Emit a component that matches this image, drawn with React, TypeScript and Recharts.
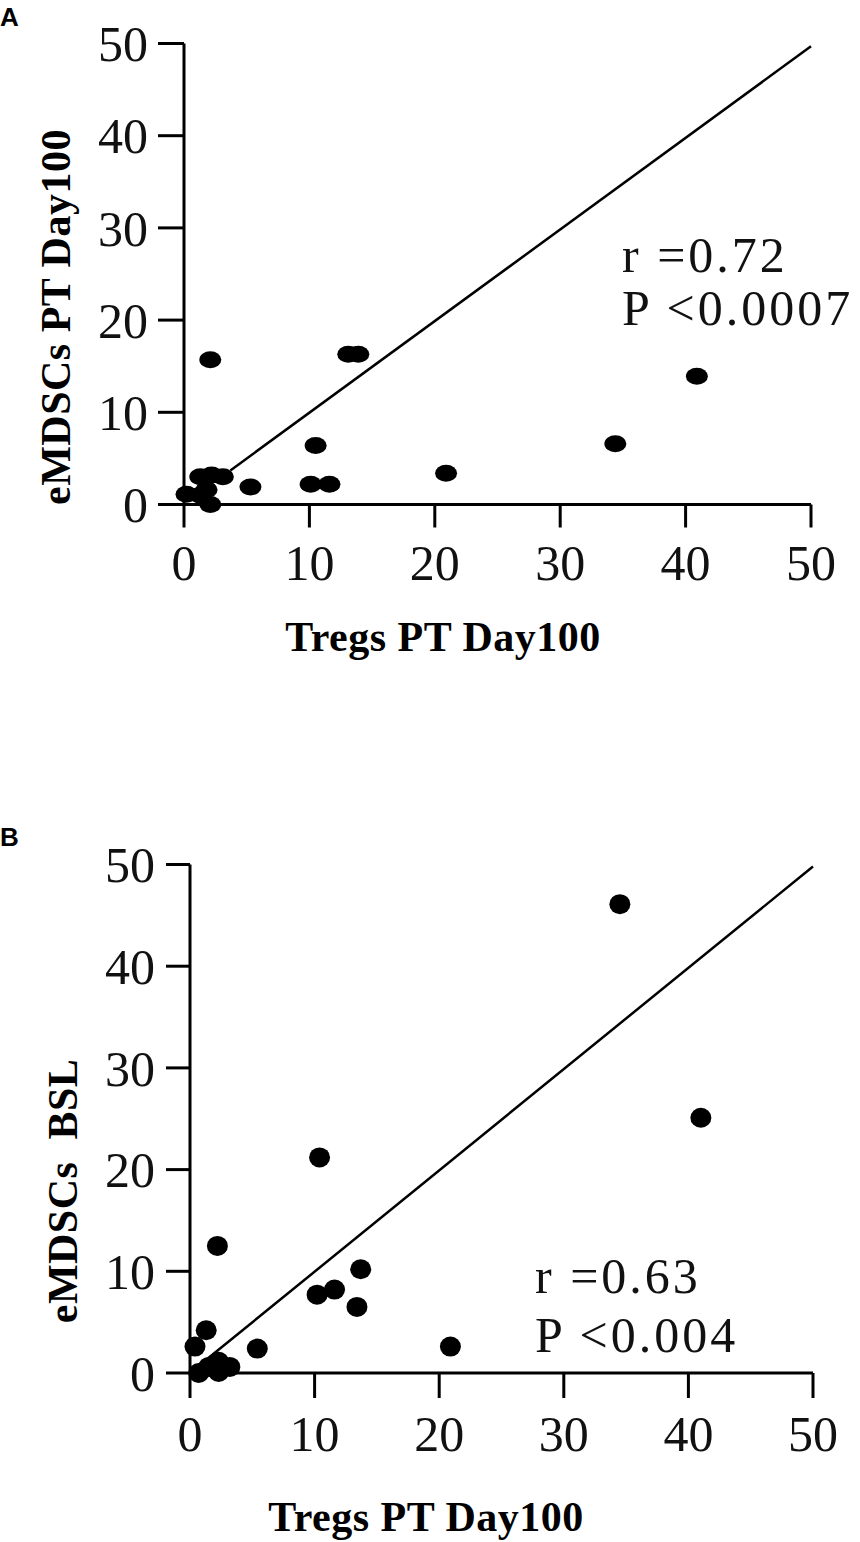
import React from 'react'
import { ScatterChart, Scatter, XAxis, YAxis, ReferenceLine } from 'recharts'

// Panel A: Tregs PT Day100 vs eMDSCs PT Day100
const TREGS_A = [0.2, 1.3, 1.8, 2.1, 1.3, 2.2, 3.1, 2.1, 5.3, 10.1, 10.5, 11.6, 13.1, 13.9, 20.9, 34.4, 40.9]
const EMDSC_A = [1.1, 1.0, 1.6, 0.0, 3.0, 3.2, 3.0, 15.7, 1.9, 2.2, 6.4, 2.2, 16.3, 16.3, 3.4, 6.6, 13.9]
const FIT_A_X = [3.7, 50]
const FIT_A_Y = [3.7, 49.7]

// Panel B: Tregs PT Day100 vs eMDSCs BSL
const TREGS_B = [0.4, 0.7, 1.3, 1.5, 2.3, 2.3, 3.2, 2.2, 5.4, 10.2, 10.4, 11.6, 13.4, 13.7, 20.9, 34.5, 41.0]
const EMDSC_B = [2.6, 0.0, 4.2, 0.6, 0.1, 1.1, 0.6, 12.5, 2.4, 7.7, 21.2, 8.2, 6.5, 10.2, 2.6, 46.1, 25.1]
const FIT_B_X = [1.0, 50]
const FIT_B_Y = [1.0, 49.8]

const TICKS = [0, 10, 20, 30, 40, 50]

const SERIF = '"Liberation Serif", "Times New Roman", serif'
const SANS = '"Liberation Sans", Arial, sans-serif'

const toPoints = (xs: number[], ys: number[]) => xs.map((x, i) => ({ x, y: ys[i] }))

const tickStyle = { fontSize: 50, fill: '#111', fontFamily: SERIF }

const Dot = (rx: number, ry: number) => (props: any) => (
  <ellipse cx={props.cx} cy={props.cy} rx={rx} ry={ry} fill="#000" />
)

const Title = ({ x, y, children, rotate = false }: any) => (
  <text
    x={x}
    y={y}
    textAnchor="middle"
    transform={rotate ? `rotate(-90 ${x} ${y})` : undefined}
    style={{ fontFamily: SERIF, fontWeight: 'bold', fontSize: 42, letterSpacing: 0.5, whiteSpace: 'pre' }}
    fill="#000"
  >
    {children}
  </text>
)

const Note = ({ x, y, children }: any) => (
  <text x={x} y={y} style={{ fontFamily: SERIF, fontSize: 50, letterSpacing: 3 }} fill="#111">
    {children}
  </text>
)

const PanelTag = ({ y, children }: any) => (
  <text x={0} y={y} style={{ fontFamily: SANS, fontWeight: 'bold', fontSize: 26 }} fill="#000">
    {children}
  </text>
)

export default function App() {
  const dataA = toPoints(TREGS_A, EMDSC_A)
  const dataB = toPoints(TREGS_B, EMDSC_B)

  return (
    <div style={{ position: 'absolute', left: 0, top: 0, width: 860, height: 1542, background: '#fff' }}>
      <ScatterChart width={860} height={770} margin={{ top: 43.5, right: 49, bottom: 185.5, left: 64 }}>
        <XAxis
          type="number"
          dataKey="x"
          domain={[0, 50]}
          ticks={TICKS}
          height={80}
          tickSize={23}
          tickMargin={17}
          tick={tickStyle}
          axisLine={{ stroke: '#000', strokeWidth: 3 }}
          tickLine={{ stroke: '#000', strokeWidth: 3 }}
        />
        <YAxis
          type="number"
          dataKey="y"
          domain={[0, 50]}
          ticks={TICKS}
          width={120}
          tickSize={26}
          tickMargin={10}
          tick={tickStyle}
          axisLine={{ stroke: '#000', strokeWidth: 3 }}
          tickLine={{ stroke: '#000', strokeWidth: 3 }}
        />
        <ReferenceLine
          segment={[{ x: FIT_A_X[0], y: FIT_A_Y[0] }, { x: FIT_A_X[1], y: FIT_A_Y[1] }]}
          stroke="#000"
          strokeWidth={2.5}
          ifOverflow="visible"
        />
        <Scatter data={dataA} shape={Dot(11, 8.5)} isAnimationActive={false} />
        <PanelTag y={26}>A</PanelTag>
        <Title x={70} y={317} rotate>eMDSCs PT Day100</Title>
        <Title x={443} y={651}>Tregs PT Day100</Title>
        <Note x={622} y={272}>r =0.72</Note>
        <Note x={622} y={325}>P &lt;0.0007</Note>
      </ScatterChart>

      <ScatterChart width={860} height={772} margin={{ top: 94.5, right: 47, bottom: 89, left: 70 }}>
        <XAxis
          type="number"
          dataKey="x"
          domain={[0, 50]}
          ticks={TICKS}
          height={80}
          tickSize={25}
          tickMargin={17}
          tick={tickStyle}
          axisLine={{ stroke: '#000', strokeWidth: 3 }}
          tickLine={{ stroke: '#000', strokeWidth: 3 }}
        />
        <YAxis
          type="number"
          dataKey="y"
          domain={[0, 50]}
          ticks={TICKS}
          width={120}
          tickSize={24}
          tickMargin={11}
          tick={tickStyle}
          axisLine={{ stroke: '#000', strokeWidth: 3 }}
          tickLine={{ stroke: '#000', strokeWidth: 3 }}
        />
        <ReferenceLine
          segment={[{ x: FIT_B_X[0], y: FIT_B_Y[0] }, { x: FIT_B_X[1], y: FIT_B_Y[1] }]}
          stroke="#000"
          strokeWidth={2.5}
          ifOverflow="visible"
        />
        <Scatter data={dataB} shape={Dot(10.5, 10)} isAnimationActive={false} />
        <PanelTag y={76}>B</PanelTag>
        <Title x={77} y={421} rotate>eMDSCs  BSL</Title>
        <Title x={426} y={761}>Tregs PT Day100</Title>
        <Note x={535} y={523}>r =0.63</Note>
        <Note x={535} y={582}>P &lt;0.004</Note>
      </ScatterChart>
    </div>
  )
}
